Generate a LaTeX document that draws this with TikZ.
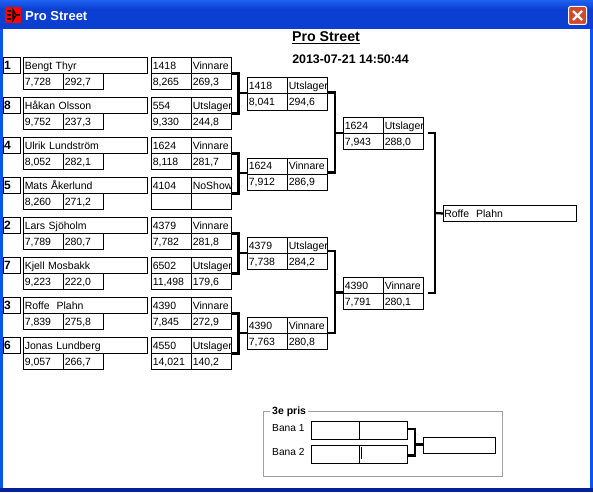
\documentclass[tikz,border=0pt]{standalone}
\usepackage{fontspec}
\setmainfont{Liberation Sans}
\usetikzlibrary{positioning}
\definecolor{xpblue}{HTML}{0A3FD2}
\definecolor{xplight}{HTML}{1F62F2}
\definecolor{xpdark}{HTML}{00209A}
\definecolor{xpedge}{HTML}{0A55F0}
\definecolor{xpclose}{HTML}{D0492A}
\definecolor{framegray}{HTML}{A0A0A0}
\tikzset{
  base/.style={draw,line width=1pt,inner sep=0,outer sep=0,font=\fontsize{10.5}{12}\selectfont,
    text height=7.5,text depth=0,minimum height=16,align=left},
  cell/.style={base,minimum width=40,text width=37.5,inner xsep=1.25},
  wide cell/.style={base,minimum width=123.5,text width=121,inner xsep=1.25},
  final cell/.style={base,minimum width=133,text width=130.5,inner xsep=1.25},
  seed/.style={base,minimum width=17,font=\fontsize{12}{13}\selectfont\bfseries,text width=14.5,inner xsep=1.25,text height=8.5},
  bracket/.style={line width=2.3pt},
  blank/.style={draw,line width=1pt,inner sep=0,outer sep=0}
}
% a seeded driver: name, seed number, two results
\newcommand{\driver}[6]{
  \node[seed] (s#1) at (11.5,#2) {#3};
  \node[wide cell,anchor=west] (n#1) at (23.5,#2) {#4};
  \node[cell,anchor=north west] (t#1) at (n#1.south west) {#5};
  \node[cell,right=0pt of t#1] (v#1) {#6};
}
% a heat: id and status above, time and speed below
\newcommand{\heat}[7]{
  \node[cell,anchor=west] (h#1) at (#2,#3) {#4};
  \node[cell,right=0pt of h#1] (r#1) {#5};
  \node[cell,anchor=north west] (e#1) at (h#1.south west) {#6};
  \node[cell,right=0pt of e#1] (f#1) {#7};
}
\begin{document}
\begin{tikzpicture}[x=1pt,y=-1pt]
  \useasboundingbox (0,0) rectangle (593,492);

  % window
  \fill[xpblue] (0,0) rectangle (593,492);
  \shade[top color=xplight,bottom color=xpblue] (0,0) rectangle (593,9);
  \fill[xpedge] (0,29) rectangle (3,488);
  \fill[xpedge] (590,29) rectangle (593,488);
  \fill[xpdark] (0,488) rectangle (593,492);
  \fill[white] (3,29) rectangle (590,488);
  \fill[red] (5,7) rectangle (21,23);
  \draw[black,line width=1.5pt] (7,11) -- (11,11) (7,15) -- (11,15) (7,19) -- (11,19) (13,10) -- (13,20) -- (16,15) -- cycle (16,15) -- (20,15);
  \node[anchor=base west,white,inner sep=0,font=\fontsize{13}{14}\selectfont\bfseries] (wintitle) at (25,21) {Pro Street};
  \draw[white,fill=xpclose,line width=1pt,rounded corners=2pt] (568.5,6.5) rectangle (586.5,24.5);
  \draw[white,line width=2.2pt] (573,11) -- (582,20) (582,11) -- (573,20);

  % headings
  \node[inner sep=0,font=\fontsize{14.2}{15}\selectfont\bfseries] (title) at (326,38) {\underline{Pro Street}};
  \node[inner sep=0,font=\fontsize{12.4}{14}\selectfont\bfseries] (stamp) at (350.5,59.5) {2013-07-21 14:50:44};

  % drivers
  \driver{a}{65.5}{1}{Bengt Thyr}{7,728}{292,7}
  \driver{b}{105.5}{8}{Håkan Olsson}{9,752}{237,3}
  \driver{c}{145.5}{4}{Ulrik Lundström}{8,052}{282,1}
  \driver{d}{185.5}{5}{Mats Åkerlund}{8,260}{271,2}
  \driver{e}{225.5}{2}{Lars Sjöholm}{7,789}{280,7}
  \driver{f}{265.5}{7}{Kjell Mosbakk}{9,223}{222,0}
  \driver{g}{305.5}{3}{Roffe\ \ Plahn}{7,839}{275,8}
  \driver{i}{345.5}{6}{Jonas Lundberg}{9,057}{266,7}

  % first round
  \heat{a}{151.5}{65.5}{1418}{Vinnare}{8,265}{269,3}
  \heat{b}{151.5}{105.5}{554}{Utslager}{9,330}{244,8}
  \heat{c}{151.5}{145.5}{1624}{Vinnare}{8,118}{281,7}
  \heat{d}{151.5}{185.5}{4104}{NoShow}{}{}
  \heat{e}{151.5}{225.5}{4379}{Vinnare}{7,782}{281,8}
  \heat{f}{151.5}{265.5}{6502}{Utslager}{11,498}{179,6}
  \heat{g}{151.5}{305.5}{4390}{Vinnare}{7,845}{272,9}
  \heat{i}{151.5}{345.5}{4550}{Utslager}{14,021}{140,2}

  % second round
  \heat{ab}{247.5}{86}{1418}{Utslager}{8,041}{294,6}
  \heat{cd}{247.5}{166}{1624}{Vinnare}{7,912}{286,9}
  \heat{ef}{247.5}{245.5}{4379}{Utslager}{7,738}{284,2}
  \heat{gi}{247.5}{325.5}{4390}{Vinnare}{7,763}{280,8}

  % third round
  \heat{up}{343.5}{125.5}{1624}{Utslager}{7,943}{288,0}
  \heat{lo}{343.5}{285.5}{4390}{Vinnare}{7,791}{280,1}

  % winner
  \node[final cell,anchor=west] (win) at (443,213.5) {Roffe\ \ Plahn};

  % junctions
  \coordinate (j1) at (238.5,93);
  \coordinate (j2) at (238.5,173);
  \coordinate (j3) at (238.5,253);
  \coordinate (j4) at (238.5,333);
  \coordinate (j5) at (335,133);
  \coordinate (j6) at (335,292.5);
  \coordinate (j7) at (435,213);

  % brackets
  \draw[bracket] (ra.south east) -| (j1) |- (rb.south east);
  \draw[bracket] (rc.south east) -| (j2) |- (rd.south east);
  \draw[bracket] (re.south east) -| (j3) |- (rf.south east);
  \draw[bracket] (rg.south east) -| (j4) |- (ri.south east);
  \draw[bracket] (j1) -- (j1 -| hab.west);
  \draw[bracket] (j2) -- (j2 -| hcd.west);
  \draw[bracket] (j3) -- (j3 -| hef.west);
  \draw[bracket] (j4) -- (j4 -| hgi.west);
  \draw[bracket] ([yshift=1.5pt]rab.south east) -| (j5) |- ([yshift=1.5pt]rcd.south east);
  \draw[bracket] ([yshift=2.5pt]ref.south east) -| (j6) |- ([yshift=0.5pt]rgi.south east);
  \draw[bracket] (j5) -- (j5 -| hup.west);
  \draw[bracket] (j6) -- (j6 -| hlo.west);
  \draw[bracket] ([xshift=4pt,yshift=0.5pt]rup.south east) -| (j7) |- ([xshift=4pt,yshift=0.5pt]rlo.south east);
  \draw[bracket] (j7) -- (win.west);

  % third place
  \draw[framegray,line width=1pt] (263.5,411.5) rectangle (502.5,476.5);
  \node[fill=white,inner xsep=2,inner ysep=0,anchor=west,font=\fontsize{10.5}{12}\selectfont\bfseries] (third) at (270,412) {3e pris};
  \node[inner sep=0,anchor=west,font=\fontsize{10.2}{12}\selectfont] (lane1) at (272,428.5) {Bana 1};
  \node[inner sep=0,anchor=west,font=\fontsize{10.2}{12}\selectfont] (lane2) at (272,452) {Bana 2};
  \node[blank,minimum width=48,minimum height=18,anchor=west] (p1) at (311.5,430.5) {};
  \node[blank,minimum width=48,minimum height=18,right=0pt of p1] (q1) {};
  \node[blank,minimum width=48,minimum height=18,anchor=west] (p2) at (311.5,454) {};
  \node[blank,minimum width=48,minimum height=18,right=0pt of p2] (q2) {};
  \node[blank,minimum width=72.5,minimum height=15.5,anchor=west] (prize) at (423,445.5) {};
  \coordinate (j8) at (415,444.5);
  \draw[bracket] ([yshift=1.5pt]q1.east) -| (j8) |- ([yshift=-1.5pt]q2.east);
  \draw[bracket] (j8) -- (j8 -| prize.west);
  \draw[line width=1pt] (361.5,447) -- (361.5,459);
\end{tikzpicture}
\end{document}
